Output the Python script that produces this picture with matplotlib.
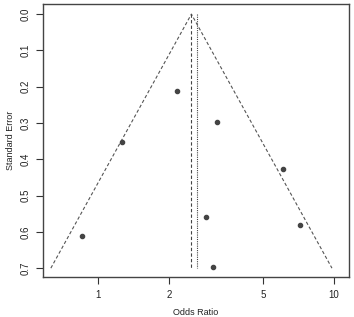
import numpy as np
import matplotlib.pyplot as plt

plt.rcParams['font.family'] = ['Liberation Sans', 'DejaVu Sans']

# study estimates (odds ratio) and standard errors
odds_ratio = [0.86, 2.87, 3.07, 7.18, 2.17, 3.21, 1.26, 6.10]
std_err = [0.61, 0.559, 0.697, 0.582, 0.211, 0.297, 0.353, 0.428]

fixed_est = 2.49     # dashed line / funnel apex
random_est = 2.63    # dotted line
se_max = 0.7

x_ticks = [1, 2, 5, 10]
y_ticks = [0.0, 0.1, 0.2, 0.3, 0.4, 0.5, 0.6, 0.7]

fig = plt.figure(figsize=(3.54, 3.17), dpi=100)
ax = fig.add_axes([0.1215, 0.126, 0.8645, 0.861])

# funnel
se_line = np.array([se_max, 0, se_max])
x_line = fixed_est * np.exp(np.array([-1.96, 0, 1.96]) * se_line)
ax.plot(x_line, se_line, color='#555555', lw=0.8, ls=(0, (3, 2)))
ax.plot([fixed_est, fixed_est], [0, se_max], color='#444444', lw=0.8, ls=(0, (3, 2)))
ax.plot([random_est, random_est], [0, se_max], color='#444444', lw=0.8, ls=(0, (1, 1)))

ax.scatter(odds_ratio, std_err, s=9, color='#444444', zorder=3)

ax.set_xscale('log')
ax.set_xlim(0.585, 11.6)
ax.set_ylim(0.7245, -0.0275)
ax.set_xticks(x_ticks)
ax.set_xticklabels([str(t) for t in x_ticks])
ax.minorticks_off()
ax.set_yticks(y_ticks)
ax.set_yticklabels(['%.1f' % t for t in y_ticks], rotation=90, va='center')

ax.tick_params(length=5, width=0.8, color='#333333', labelsize=7, labelcolor='#222222', pad=4)
for s in ax.spines.values():
    s.set_color('#444444')
    s.set_linewidth(1.0)

ax.set_xlabel('Odds Ratio', fontsize=6.5, color='#222222', labelpad=6)
ax.set_ylabel('Standard Error', fontsize=6.5, color='#222222', labelpad=4)

fig.savefig('out.png', dpi=100)
